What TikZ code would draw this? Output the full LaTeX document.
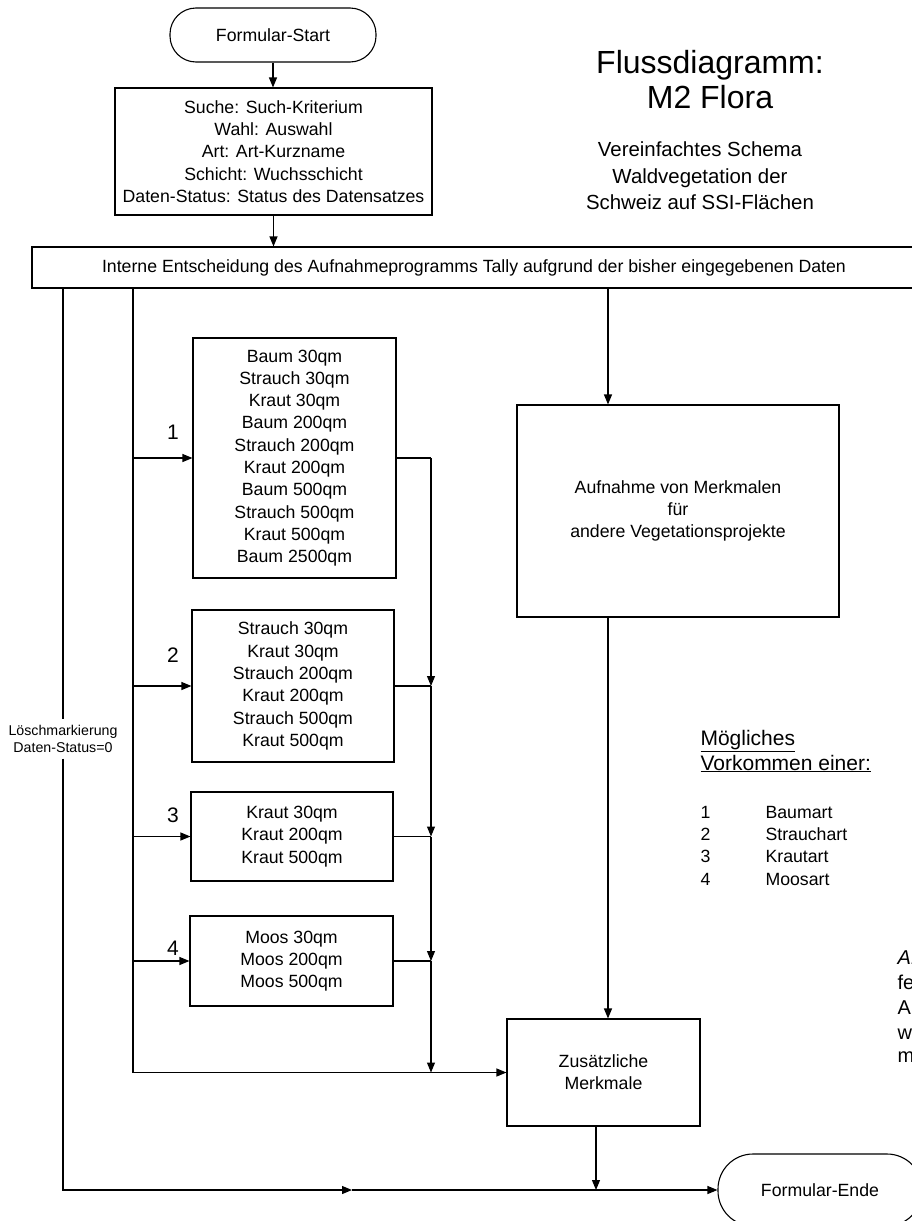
\documentclass[tikz,border=0pt]{standalone}
\usepackage{fontspec}
\setmainfont{Liberation Sans}
\usetikzlibrary{arrows.meta}

\begin{document}
\begin{tikzpicture}[x=1pt, y=-1pt, line width=1.1pt,
  kasten/.style={draw, inner sep=0pt, align=center, font=\fontsize{17.7}{22.3}\selectfont},
  terminal/.style={kasten, rounded corners=26pt},
  pfeil/.style={-{Triangle[length=10pt,width=8pt]}},
  ziffer/.style={inner sep=0pt, font=\fontsize{21}{21}\selectfont},
  notiz/.style={anchor=west, inner sep=0pt, font=\fontsize{17.7}{22.3}\selectfont}]
\useasboundingbox (0,0) rectangle (912,1221);
\clip (0,0) rectangle (912,1221);
\fill[white] (0,0) rectangle (912,1221);

% Draw the boxes
\node[terminal, minimum width=206pt, minimum height=54pt] (start) at (273,35) {Formular-Start};
\node[kasten, minimum width=317pt, minimum height=127pt] (suche) at (273.5,151.5)
  {Suche: Such-Kriterium\\Wahl: Auswahl\\Art: Art-Kurzname\\Schicht: Wuchsschicht\\Daten-Status: Status des Datensatzes};
\node[kasten, minimum width=884pt, minimum height=41pt] (entscheid) at (474,267.5)
  {Interne Entscheidung des Aufnahmeprogramms Tally aufgrund der bisher eingegebenen Daten};
\node[kasten, minimum width=203pt, minimum height=240pt] (baum) at (294.5,458)
  {Baum 30qm\\Strauch 30qm\\Kraut 30qm\\Baum 200qm\\Strauch 200qm\\Kraut 200qm\\Baum 500qm\\Strauch 500qm\\Kraut 500qm\\Baum 2500qm};
\node[kasten, minimum width=202pt, minimum height=152pt] (strauch) at (293,686)
  {Strauch 30qm\\Kraut 30qm\\Strauch 200qm\\Kraut 200qm\\Strauch 500qm\\Kraut 500qm};
\node[kasten, minimum width=202pt, minimum height=89pt] (kraut) at (292,836.5)
  {Kraut 30qm\\Kraut 200qm\\Kraut 500qm};
\node[kasten, minimum width=203pt, minimum height=90pt] (moos) at (291.5,961)
  {Moos 30qm\\Moos 200qm\\Moos 500qm};
\node[kasten, minimum width=322pt, minimum height=212pt] (aufnahme) at (678,511)
  {Aufnahme von Merkmalen\\für\\andere Vegetationsprojekte};
\node[kasten, minimum width=193pt, minimum height=107pt] (zusatz) at (603.5,1072.5)
  {Zusätzliche\\Merkmale};
\node[terminal, rounded corners=35pt, minimum width=204pt, minimum height=72pt] (ende) at (820,1190) {Formular-Ende};
\node[align=center, inner sep=0pt, minimum height=38pt, font=\fontsize{14.2}{17}\selectfont] (loesch) at (63,739)
  {Löschmarkierung\\Daten-Status=0};

% Title and legend
\node[align=center, font=\fontsize{32}{35}\selectfont] (titel) at (710,80) {Flussdiagramm:\\M2 Flora};
\node[align=center, font=\fontsize{20.4}{26.5}\selectfont] (untertitel) at (700,176)
  {Vereinfachtes Schema\\Waldvegetation der\\Schweiz auf SSI-Flächen};
\node[anchor=west, inner sep=0pt, align=left, font=\fontsize{21}{25}\selectfont] (legende) at (700,751)
  {\underline{Mögliches}\\\underline{Vorkommen einer:}};
\foreach \nr/\name/\ny in {1/Baumart/812, 2/Strauchart/834, 3/Krautart/856, 4/Moosart/879}
{
    \node[notiz] (zahl\nr) at (700,\ny) {\nr};
    \node[notiz] (art\nr) at (765,\ny) {\name};
}
\node[notiz, font=\fontsize{20}{20}\selectfont] (rand1) at (897,958) {\textit{A.}};
\node[notiz, font=\fontsize{20}{20}\selectfont] (rand2) at (897,982) {fe};
\node[notiz, font=\fontsize{20}{20}\selectfont] (rand3) at (897,1008) {A};
\node[notiz, font=\fontsize{20}{20}\selectfont] (rand4) at (897,1034) {w};
\node[notiz, font=\fontsize{20}{20}\selectfont] (rand5) at (897,1057) {m};

% Lanes
\coordinate (del) at (63,0);
\coordinate (wahl) at (133,0);
\coordinate (sammel) at (431,0);
\coordinate (auf) at (608,0);
\coordinate (zu) at (596,0);
\coordinate (mitte) at (352,1190);

% Draw the connectors
\draw[pfeil] (start.south) -- (start.south |- suche.north);
\draw[pfeil] (suche.south) -- (suche.south |- entscheid.north);
\draw[pfeil] (auf |- entscheid.south) -- (auf |- aufnahme.north);
\draw[pfeil] (auf |- aufnahme.south) -- (auf |- zusatz.north);
\draw (del |- entscheid.south) -- (loesch.north);
\draw[pfeil] (loesch.south) -- (del |- ende.west) -- (mitte);
\draw[pfeil] (mitte) -- (ende.west);
\draw[pfeil] (wahl |- entscheid.south) -- (wahl |- zusatz.west) -- (zusatz.west);
\foreach \art/\nr/\ny in {baum/1/432, strauch/2/655, kraut/3/815, moos/4/948}
{
    \draw[pfeil] (wahl |- \art.west) -- (\art.west);
    \draw (\art.east) -- (sammel |- \art.east);
    \node[ziffer] (nr\nr) at (173,\ny) {\nr};
}
\draw[pfeil] (sammel |- baum.east) -- (sammel |- strauch.east);
\draw[pfeil] (sammel |- strauch.east) -- (sammel |- kraut.east);
\draw[pfeil] (sammel |- kraut.east) -- (sammel |- moos.east);
\draw[pfeil] (sammel |- moos.east) -- (sammel |- zusatz.west);
\draw[pfeil] (zu |- zusatz.south) -- (zu |- ende.west);

\end{tikzpicture}
\end{document}
